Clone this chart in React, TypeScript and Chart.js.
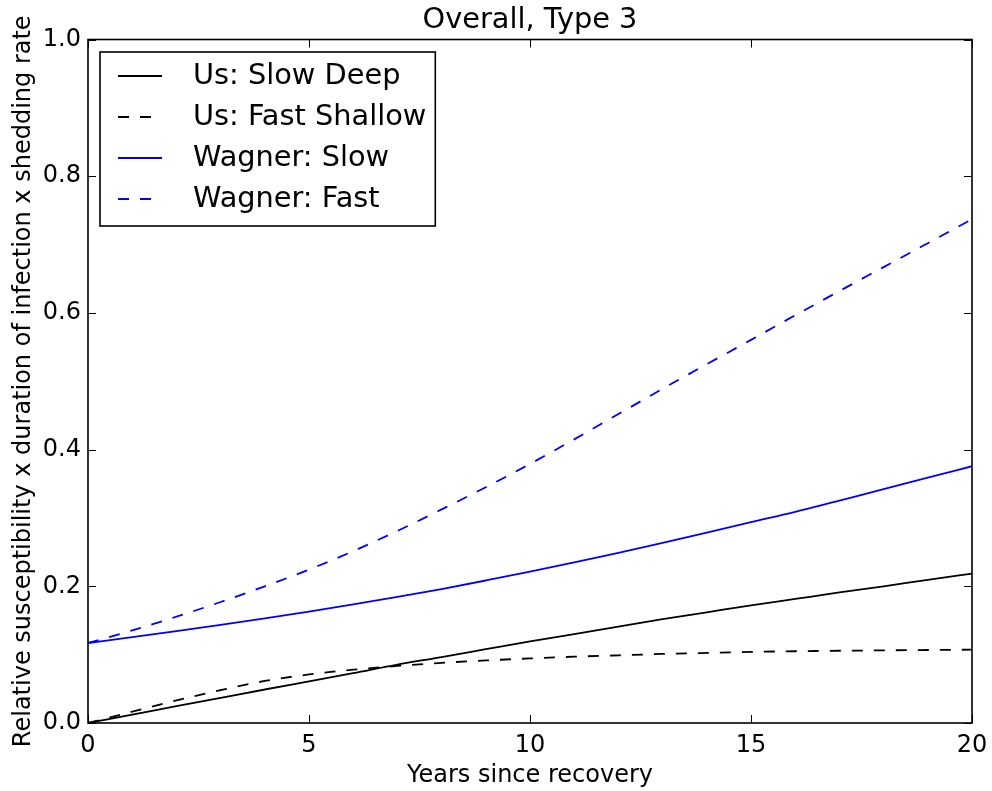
import React, { useEffect, useRef } from "react";
import { Chart, registerables } from "chart.js";

Chart.register(...registerables);

const years = [0, 1, 2, 3, 4, 5, 6, 7, 8, 9, 10, 11, 12, 13, 14, 15, 16, 17, 18, 19, 20];
const usSlowDeep = [0, 0.0123, 0.0246, 0.0368, 0.049, 0.061, 0.073, 0.0855, 0.0965, 0.108, 0.1195, 0.13, 0.141, 0.152, 0.162, 0.172, 0.1815, 0.191, 0.2, 0.2095, 0.2186];
const usFastShallow = [0, 0.0165, 0.033, 0.048, 0.0615, 0.071, 0.078, 0.0835, 0.088, 0.0915, 0.0945, 0.097, 0.099, 0.101, 0.1025, 0.104, 0.105, 0.1057, 0.1063, 0.1068, 0.1073];
const wagnerSlow = [0.117, 0.1255, 0.1343, 0.1435, 0.153, 0.163, 0.1735, 0.1845, 0.196, 0.2085, 0.2215, 0.235, 0.249, 0.2635, 0.2785, 0.294, 0.309, 0.3255, 0.342, 0.359, 0.3757];
const wagnerFast = [0.117, 0.1355, 0.1555, 0.177, 0.2, 0.2245, 0.2515, 0.281, 0.3125, 0.345, 0.379, 0.415, 0.452, 0.489, 0.525, 0.5605, 0.5965, 0.632, 0.667, 0.702, 0.737];
const seriesLabels = ["Us: Slow Deep", "Us: Fast Shallow", "Wagner: Slow", "Wagner: Fast"];
const xTicks = [0, 5, 10, 15, 20];
const yTicks = [0, 0.2, 0.4, 0.6, 0.8, 1.0];
const titleText = "Overall, Type 3";
const xTitle = "Years since recovery";
const yTitle = "Relative susceptibility x duration of infection x shedding rate";

const FONT = "'DejaVu Sans', sans-serif";

const toPoints = (vals: number[]) => years.map((x, i) => ({ x, y: vals[i] }));

const overlayPlugin = {
  id: "overlay",
  afterDraw(chart: any) {
    const { ctx, chartArea } = chart;
    const { left, right, top, bottom } = chartArea;
    const xs = chart.scales.x;
    const ys = chart.scales.y;
    ctx.save();
    // inside ticks on all sides
    ctx.strokeStyle = "#000";
    ctx.lineWidth = 1;
    const tl = 8;
    xTicks.forEach((v) => {
      const px = Math.round(xs.getPixelForValue(v)) + 0.5;
      ctx.beginPath();
      ctx.moveTo(px, bottom);
      ctx.lineTo(px, bottom - tl);
      ctx.moveTo(px, top);
      ctx.lineTo(px, top + tl);
      ctx.stroke();
    });
    yTicks.forEach((v) => {
      const py = Math.round(ys.getPixelForValue(v)) + 0.5;
      ctx.beginPath();
      ctx.moveTo(left, py);
      ctx.lineTo(left + tl, py);
      ctx.moveTo(right, py);
      ctx.lineTo(right - tl, py);
      ctx.stroke();
    });
    // frame
    ctx.lineWidth = 1.6;
    ctx.strokeRect(left, top, right - left, bottom - top);

    // title
    ctx.fillStyle = "#000";
    ctx.font = `28.8px ${FONT}`;
    ctx.textAlign = "center";
    ctx.textBaseline = "alphabetic";
    ctx.fillText(titleText, (left + right) / 2, 28);

    // x title
    ctx.font = `24px ${FONT}`;
    ctx.fillText(xTitle, (left + right) / 2, 782);

    // y title
    ctx.save();
    ctx.translate(30, (top + bottom) / 2);
    ctx.rotate(-Math.PI / 2);
    ctx.fillText(yTitle, 0, 0);
    ctx.restore();

    // legend
    ctx.font = `28.8px ${FONT}`;
    const bx = left + 12;
    const by = top + 12.5;
    let maxW = 0;
    seriesLabels.forEach((s) => {
      maxW = Math.max(maxW, ctx.measureText(s).width);
    });
    const bw = 93 + maxW + 9;
    const bh = 174;
    ctx.fillStyle = "#fff";
    ctx.fillRect(bx, by, bw, bh);
    ctx.strokeStyle = "#000";
    ctx.lineWidth = 1.6;
    ctx.strokeRect(bx, by, bw, bh);
    chart.data.datasets.forEach((ds: any, i: number) => {
      const cy = by + 24 + i * 41;
      ctx.strokeStyle = ds.borderColor;
      ctx.lineWidth = ds.borderWidth;
      ctx.setLineDash(ds.borderDash || []);
      ctx.beginPath();
      ctx.moveTo(bx + 18, cy);
      ctx.lineTo(bx + 62, cy);
      ctx.stroke();
      ctx.setLineDash([]);
      ctx.fillStyle = "#000";
      ctx.textAlign = "left";
      ctx.textBaseline = "middle";
      ctx.fillText(ds.label, bx + 93, cy + 1);
    });
    ctx.restore();
  },
};

export default function App() {
  const ref = useRef<HTMLCanvasElement | null>(null);
  useEffect(() => {
    document.body.style.margin = "0";
    const canvas = ref.current;
    if (!canvas) return;
    const dash = [11, 11];
    const chart = new Chart(canvas, {
      type: "line",
      data: {
        datasets: [
          { label: seriesLabels[0], data: toPoints(usSlowDeep), borderColor: "#000000", borderWidth: 1.8, pointRadius: 0, cubicInterpolationMode: "monotone", fill: false },
          { label: seriesLabels[1], data: toPoints(usFastShallow), borderColor: "#000000", borderWidth: 1.8, borderDash: dash, pointRadius: 0, cubicInterpolationMode: "monotone", fill: false },
          { label: seriesLabels[2], data: toPoints(wagnerSlow), borderColor: "#0000ff", borderWidth: 1.8, pointRadius: 0, cubicInterpolationMode: "monotone", fill: false },
          { label: seriesLabels[3], data: toPoints(wagnerFast), borderColor: "#0000ff", borderWidth: 1.8, borderDash: dash, pointRadius: 0, cubicInterpolationMode: "monotone", fill: false },
        ],
      },
      options: {
        animation: false,
        responsive: false,
        devicePixelRatio: 1,
        layout: { padding: { left: 0, right: 20, top: 39.5, bottom: 0 } },
        plugins: { legend: { display: false }, title: { display: false }, tooltip: { enabled: false } },
        events: [],
        scales: {
          x: {
            type: "linear",
            min: 0,
            max: 20,
            afterBuildTicks: (s: any) => { s.ticks = xTicks.map((v) => ({ value: v })); },
            afterFit: (s: any) => { s.height = 68; s.paddingLeft = 0; s.paddingRight = 0; },
            grid: { display: false, drawTicks: false },
            border: { display: false },
            ticks: { color: "#000", font: { family: FONT, size: 24 }, padding: 8, maxRotation: 0, autoSkip: false, callback: (v: any) => String(v) },
          },
          y: {
            type: "linear",
            min: 0,
            max: 1,
            afterBuildTicks: (s: any) => { s.ticks = yTicks.map((v) => ({ value: v })); },
            afterFit: (s: any) => { s.width = 88; s.paddingTop = 0; s.paddingBottom = 0; },
            grid: { display: false, drawTicks: false },
            border: { display: false },
            ticks: { color: "#000", font: { family: FONT, size: 24 }, padding: 7, autoSkip: false, callback: (v: any) => Number(v).toFixed(1) },
          },
        },
      },
      plugins: [overlayPlugin],
    } as any);
    return () => chart.destroy();
  }, []);
  return (
    <div style={{ position: "absolute", left: 0, top: 0, width: 992, height: 791 }}>
      <canvas ref={ref} width={992} height={791} style={{ display: "block", width: 992, height: 791 }} />
    </div>
  );
}
